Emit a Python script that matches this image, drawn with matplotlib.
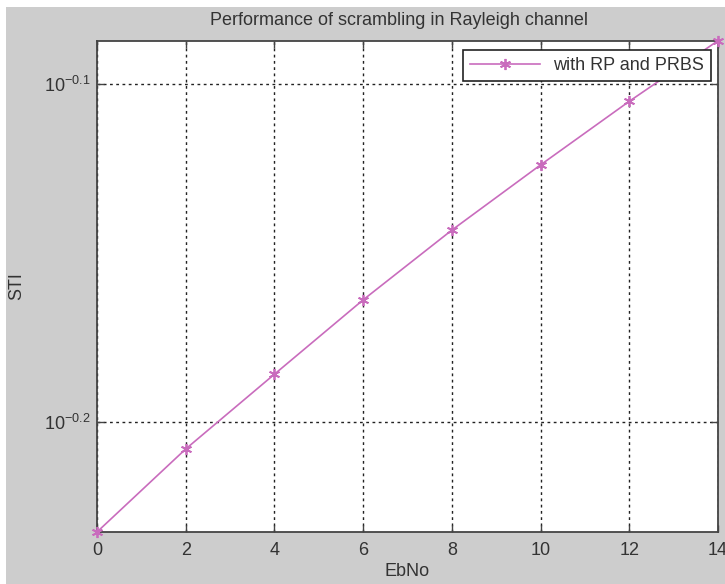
import numpy as np
import matplotlib.pyplot as plt
from matplotlib.patches import Rectangle

# values
ebno = [0, 2, 4, 6, 8, 10, 12, 14]
sti = [0.5856, 0.6196, 0.6519, 0.6857, 0.7190, 0.7516, 0.7848, 0.8178]
x_ticks = [0, 2, 4, 6, 8, 10, 12, 14]
y_ticks = [10 ** -0.2, 10 ** -0.1]
y_tick_labels = [r'$10^{-0.2}$', r'$10^{-0.1}$']

plt.rcParams['font.family'] = ['Liberation Sans', 'DejaVu Sans']
plt.rcParams['mathtext.fontset'] = 'custom'
plt.rcParams['mathtext.rm'] = 'Liberation Sans'
plt.rcParams['mathtext.it'] = 'Liberation Sans'
plt.rcParams['mathtext.default'] = 'regular'

W, H = 725, 584
fs = 13
txt = '#333333'
fig = plt.figure(figsize=(W / 100, H / 100), dpi=100, facecolor='white')
# grey matlab-style figure background with a thin white margin top/left
fig.patches.append(Rectangle((6 / W, 0), 1, 1 - 7 / H, transform=fig.transFigure,
                             facecolor='#cdcdcd', edgecolor='none', zorder=-10))

ax = fig.add_axes([97 / W, (H - 532) / H, 621 / W, 491.3 / H])
ax.set_facecolor('white')
ax.set_yscale('log')

ax.plot(ebno, sti, color='#c96cbd', marker=(6, 2, 0), markersize=8,
        markeredgewidth=1.3, linewidth=1.2, label='with RP and PRBS',
        clip_on=False, zorder=5)

ax.set_xlim(0, 14)
ax.set_ylim(sti[0], sti[-1])
ax.set_xticks(x_ticks)
ax.set_xticklabels([str(t) for t in x_ticks])
ax.set_yticks(y_ticks)
ax.set_yticklabels(y_tick_labels)
ax.yaxis.set_minor_locator(plt.NullLocator())

ax.grid(True, color='#222222', linestyle=(0, (2, 2.5)), linewidth=1)
ax.tick_params(direction='in', top=True, right=True, length=5, width=1,
               colors='#444444', labelcolor=txt, labelsize=fs)
ax.tick_params(axis='x', pad=7)
ax.tick_params(axis='y', pad=5)
for s in ax.spines.values():
    s.set_color('#444444')
    s.set_linewidth(1.3)

ax.set_xlabel('EbNo', fontsize=fs, color=txt, labelpad=3)
ax.set_ylabel('STI', fontsize=fs, color=txt)
ax.yaxis.set_label_coords(-0.116, 0.5)
fig.text(399 / W, 1 - 25 / H, 'Performance of scrambling in Rayleigh channel',
         ha='center', va='baseline', fontsize=fs, color=txt)

leg = ax.legend(loc='upper right', bbox_to_anchor=(0.989, 0.981), borderaxespad=0,
                fancybox=False, framealpha=1, edgecolor='#222222', fontsize=fs,
                handlelength=3.9, handletextpad=0.7, borderpad=0.4)
leg.get_frame().set_linewidth(1.2)
for t in leg.get_texts():
    t.set_color(txt)

plt.savefig('out.png', dpi=100, facecolor=fig.get_facecolor())
